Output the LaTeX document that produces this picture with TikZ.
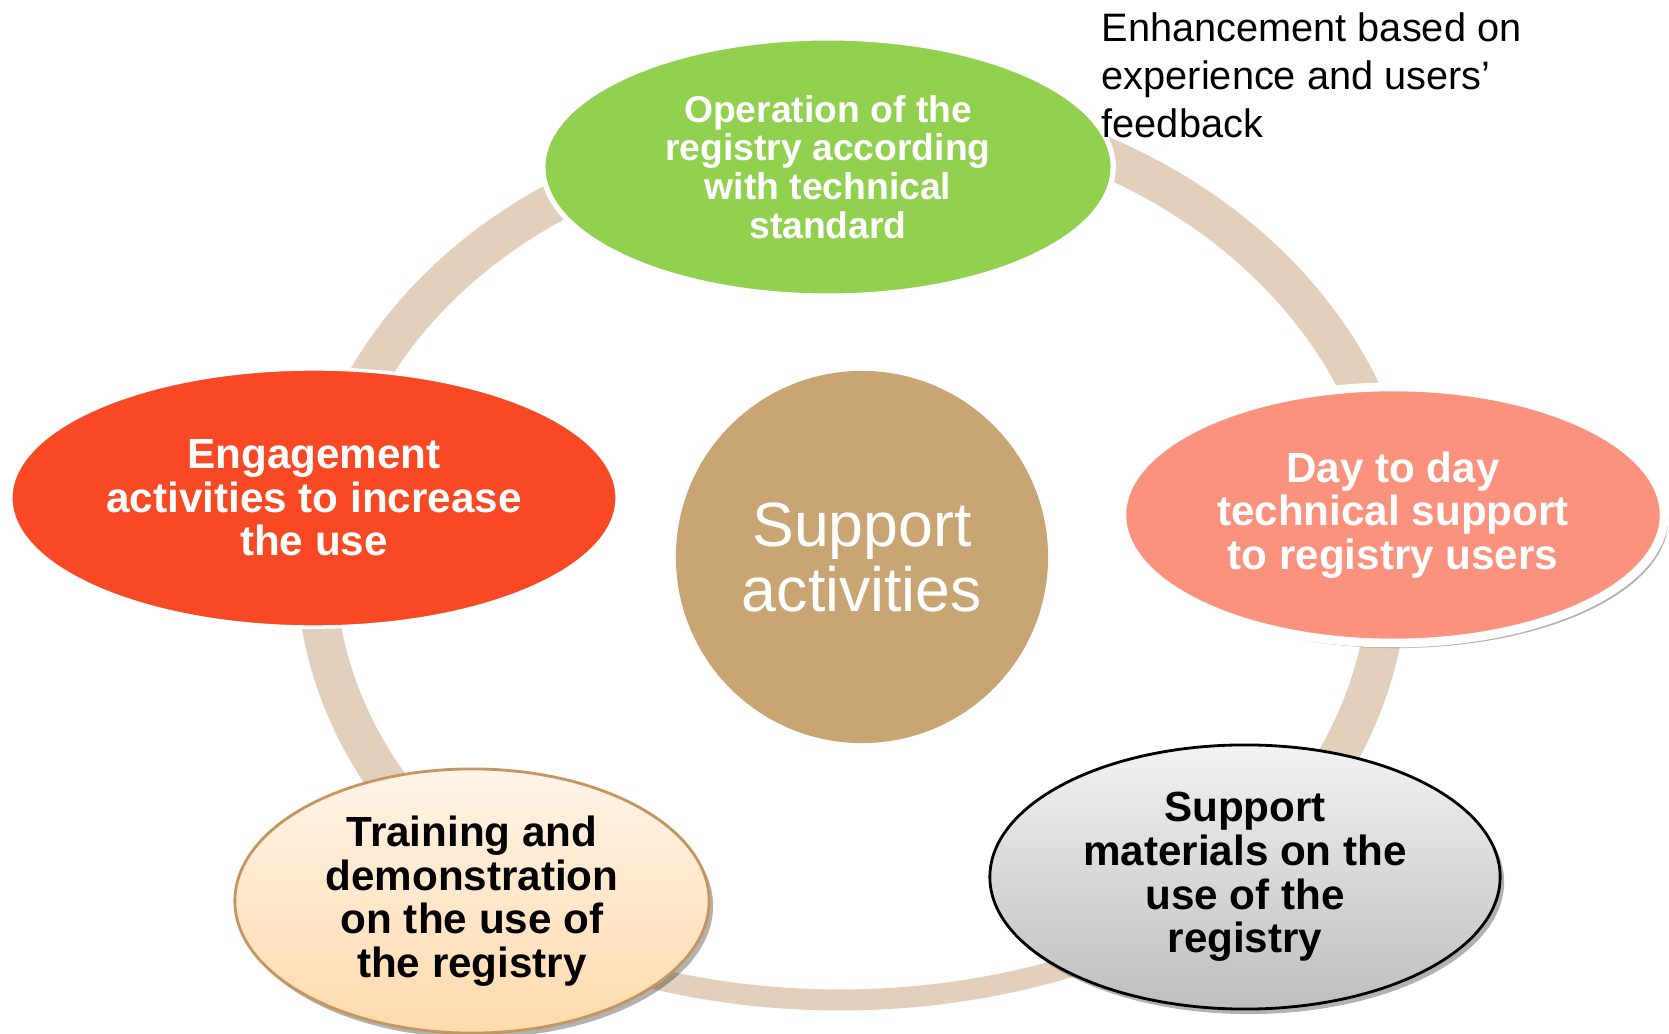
\documentclass[tikz,border=0pt]{standalone}
\usepackage{fontspec}
\setmainfont{Liberation Sans}
\usetikzlibrary{shapes.geometric,shadows}
\definecolor{ringc}{RGB}{226,208,188}
\definecolor{greenc}{RGB}{146,208,80}
\definecolor{redc}{RGB}{248,72,36}
\definecolor{pinkc}{RGB}{250,146,126}
\definecolor{tanc}{RGB}{201,165,115}
\definecolor{beigetop}{RGB}{255,244,232}
\definecolor{beigebot}{RGB}{255,218,172}
\definecolor{beigeedge}{RGB}{196,150,95}
\definecolor{graytop}{RGB}{242,242,242}
\definecolor{graybot}{RGB}{190,190,190}
\begin{document}
\begin{tikzpicture}[x=0.01cm,y=-0.01cm,
  oval/.style={ellipse, inner sep=0pt, align=center, font=\bfseries\fontsize{12}{12.4}\selectfont},
  shade/.style={drop shadow={shadow xshift=0.04cm, shadow yshift=-0.05cm, opacity=0.3, fill=black}},
  ringline/.style={draw=ringc, line width=0.39cm},
  ringthin/.style={draw=ringc, line width=0.21cm}]
\useasboundingbox (0,0) rectangle (1669,1034);
\fill[white] (0,0) rectangle (1669,1034);
% ring segments (ends hidden under the ovals)
\draw[ringline] plot[domain=120:265, samples=80, smooth] ({852+536*cos(\x)}, {565+436*sin(\x)});
\draw[ringline] plot[domain=265:345, samples=60, smooth] ({852+550*cos(\x)}, {565+460*sin(\x)});
\draw[ringline] plot[domain=5:60, samples=40, smooth] ({852+537*cos(\x)}, {565+450*sin(\x)});
\draw[ringthin] plot[domain=60:120, samples=40, smooth] ({840+600*cos(\x)}, {565+435*sin(\x)});
\node[oval, fill=greenc, draw=white, line width=1.5pt, minimum width=5.70cm, minimum height=2.58cm,
  text=white, font=\bfseries\fontsize{10.6}{11}\selectfont] (op) at (828,167)
  {Operation of the\\registry according\\with technical\\standard};
\node[oval, fill=pinkc, draw=white, line width=2.5pt, minimum width=5.42cm, minimum height=2.56cm,
  text=white, shade] (day) at (1393,515)
  {Day to day\\technical support\\to registry users};
\node[oval, draw=black, line width=0.8pt, top color=graytop, bottom color=graybot,
  minimum width=5.10cm, minimum height=2.64cm, shade] (mat) at (1245,877)
  {Support\\materials on the\\use of the\\registry};
\node[oval, draw=beigeedge, line width=0.8pt, top color=beigetop, bottom color=beigebot,
  minimum width=4.74cm, minimum height=2.64cm, shade] (train) at (472,901)
  {Training and\\demonstration\\on the use of\\the registry};
\node[oval, fill=redc, draw=white, line width=1pt, minimum width=6.06cm, minimum height=2.58cm,
  text=white] (eng) at (314,498)
  {Engagement\\activities to increase\\the use};
\node[circle, fill=tanc, minimum size=3.72cm, inner sep=0pt, align=center, text=white,
  font=\fontsize{17.8}{18.5}\selectfont] (sup) at (862,557) {Support\\activities};
\node[anchor=north west, align=left, inner sep=0pt, font=\fontsize{11.3}{13.6}\selectfont] (enh)
  at (1101,12) {Enhancement based on\\experience and users’\\feedback};
\end{tikzpicture}
\end{document}
